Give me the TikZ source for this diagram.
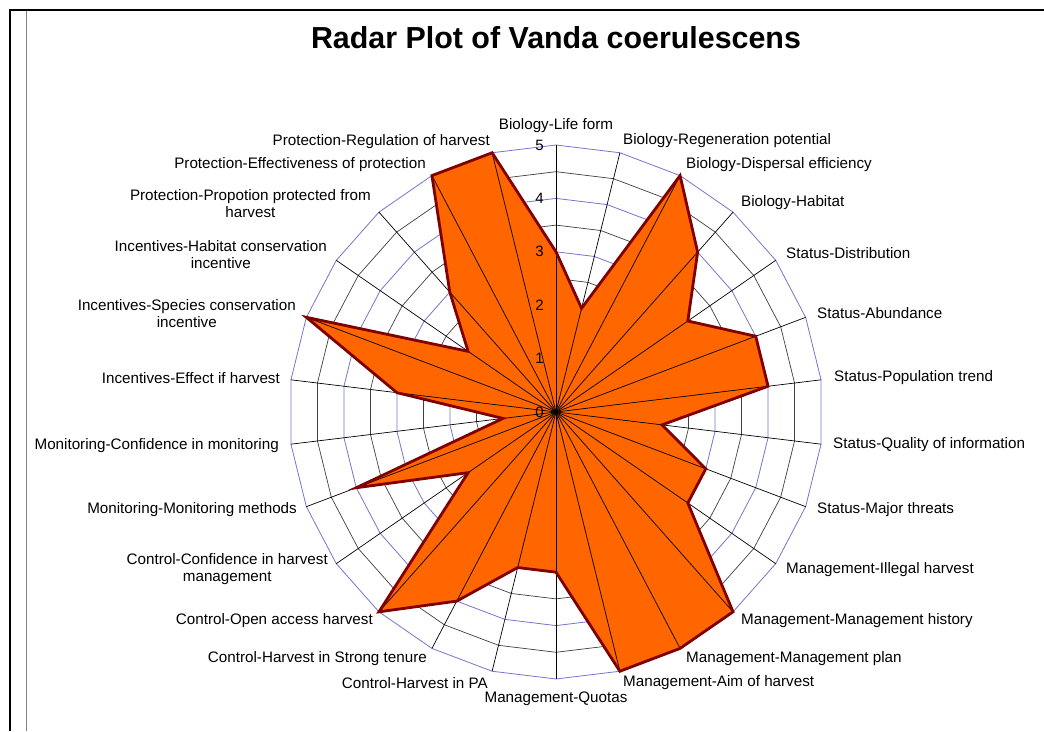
\documentclass[tikz,border=0pt]{standalone}
\usepackage{fontspec}
\setmainfont{Liberation Sans}
\usetikzlibrary{calc}
\definecolor{ringblue}{RGB}{118,118,206}
\definecolor{areafill}{RGB}{255,102,0}
\definecolor{areaedge}{RGB}{128,0,0}
\tikzset{
  axislabel/.style={inner sep=0pt, font=\fontsize{15.2}{17}\selectfont, align=center},
  ticklabel/.style={inner sep=0pt, anchor=east, font=\fontsize{15}{17}\selectfont},
  fullring/.style={draw=ringblue, line width=0.8pt},
  halfring/.style={draw=black!75, line width=0.7pt},
  spoke/.style={draw=black, line width=0.7pt},
  area/.style={fill=areafill, draw=areaedge, line width=2.8pt, line join=miter},
  frameline/.style={draw=black, line width=2.6pt},
}
\begin{document}
\begin{tikzpicture}[x=1pt,y=1pt]
\useasboundingbox (0,0) rectangle (1044,731);
\fill[white] (0,0) rectangle (1044,731);

% page frame
\coordinate (ftl) at (10,721);
\coordinate (ftr) at (1044,721);
\coordinate (fbl) at (10,0);
\draw[frameline] (ftr) -- (ftl) -- (fbl);
\coordinate (gt) at (26,720);
\coordinate (gb) at (26,0);
\draw[gray, line width=1pt] (gt) -- (gb);

% title
\node[inner sep=0pt, font=\bfseries\fontsize{30.4}{33}\selectfont] (title) at (556,693) {Radar Plot of Vanda coerulescens};

\begin{scope}[shift={(556,319)}]
  \def\u{53.4}
  \def\st{13.8461538}
  \coordinate (c) at (0,0);
  % rings: half steps in black, whole steps in blue
  \foreach \r in {0.5,1.5,2.5,3.5,4.5}{
    \draw[halfring] (90:\r*\u) \foreach \i in {1,...,25}{ -- ({90-\i*\st}:\r*\u)} -- cycle;
  }
  \foreach \r in {1,2,3,4,5}{
    \draw[fullring] (90:\r*\u) \foreach \i in {1,...,25}{ -- ({90-\i*\st}:\r*\u)} -- cycle;
  }
  % data points
  \foreach \v [count=\i from 0] in {3,2,5,4,3,4,4,2,3,3,5,5,5,3,3,4,5,2,4,1,3,5,2,3,5,5}{
    \coordinate (p\i) at ({90-\i*\st}:\v*\u);
    \coordinate (o\i) at ({90-\i*\st}:5*\u);
  }
  \fill[areafill] (p0) \foreach \i in {1,...,25}{ -- (p\i)} -- cycle;
  % spokes
  \foreach \i in {0,...,25}{
    \draw[spoke] (c) -- (o\i);
  }
  \draw[area, fill=none] (p0) \foreach \i in {1,...,25}{ -- (p\i)} -- cycle;
  \fill (c) circle (2.2);
  % scale numbers
  \foreach \n in {0,...,5}{
    \node[ticklabel] (t\n) at (-12,\n*\u) {\n};
  }
\end{scope}

% axis labels (y measured from top: Y = 731 - y)
\node[axislabel, anchor=center] (a1)  at (556,605) {Biology-Life form};
\node[axislabel, anchor=west]   (a2)  at (623,590) {Biology-Regeneration potential};
\node[axislabel, anchor=west]   (a3)  at (686,566) {Biology-Dispersal efficiency};
\node[axislabel, anchor=west]   (a4)  at (741,528) {Biology-Habitat};
\node[axislabel, anchor=west]   (a5)  at (786,478) {Status-Distribution};
\node[axislabel, anchor=west]   (a6)  at (817,418) {Status-Abundance};
\node[axislabel, anchor=west]   (a7)  at (834,353) {Status-Population trend};
\node[axislabel, anchor=west]   (a8)  at (833,286) {Status-Quality of information};
\node[axislabel, anchor=west]   (a9)  at (817,221) {Status-Major threats};
\node[axislabel, anchor=west]   (a10) at (786,161) {Management-Illegal harvest};
\node[axislabel, anchor=west]   (a11) at (741,110) {Management-Management history};
\node[axislabel, anchor=west]   (a12) at (686,72)  {Management-Management plan};
\node[axislabel, anchor=west]   (a13) at (623,48)  {Management-Aim of harvest};
\node[axislabel, anchor=center] (a14) at (556,32)  {Management-Quotas};
\node[axislabel, anchor=east]   (a15) at (488,48)  {Control-Harvest in PA};
\node[axislabel, anchor=east]   (a16) at (427,72)  {Control-Harvest in Strong tenure};
\node[axislabel, anchor=east]   (a17) at (373,110) {Control-Open access harvest};
\node[axislabel, anchor=east]   (a18) at (328,161.5) {Control-Confidence in harvest\\management};
\node[axislabel, anchor=east]   (a19) at (297,221) {Monitoring-Monitoring methods};
\node[axislabel, anchor=east]   (a20) at (279,285) {Monitoring-Confidence in monitoring};
\node[axislabel, anchor=east]   (a21) at (280,353) {Incentives-Effect if harvest};
\node[axislabel, anchor=east]   (a22) at (296,417.5) {Incentives-Species conservation\\incentive};
\node[axislabel, anchor=east]   (a23) at (327,476.5) {Incentives-Habitat conservation\\incentive};
\node[axislabel, anchor=east]   (a24) at (371,527.5) {Protection-Propotion protected from\\harvest};
\node[axislabel, anchor=east]   (a25) at (426,566) {Protection-Effectiveness of protection};
\node[axislabel, anchor=east]   (a26) at (490,589) {Protection-Regulation of harvest};
\end{tikzpicture}
\end{document}
